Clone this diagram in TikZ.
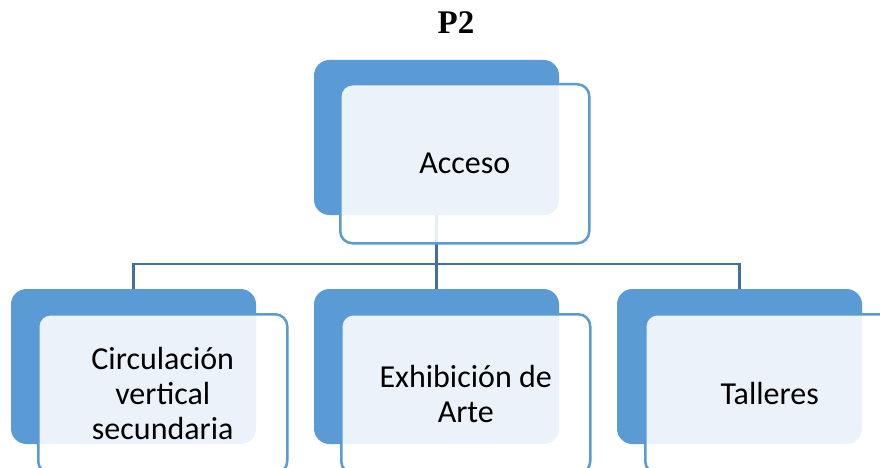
\documentclass[tikz,border=0pt]{standalone}
\usepackage{fontspec}
\setmainfont{Carlito}
\newfontfamily\titlefont{Liberation Serif}
\definecolor{accent}{HTML}{5B9BD5}
\definecolor{connc}{HTML}{41719C}
\tikzset{
  backbox/.style={draw=accent, fill=accent, line width=1pt, rounded corners=15pt, minimum width=244pt, minimum height=154pt, inner sep=0pt, anchor=north west},
  frontbox/.style={draw=accent, fill=white, fill opacity=0.88, text opacity=1, line width=2.5pt, rounded corners=12pt, minimum width=249pt, minimum height=159pt, inner sep=0pt, anchor=north west, align=center, font=\fontsize{32}{35}\selectfont, text=black},
  conn/.style={draw=connc, line width=2.5pt}
}
\begin{document}
\begin{tikzpicture}[x=1pt,y=-1pt]
\clip (0,0) rectangle (880,468);
\fill[white] (0,0) rectangle (880,468);
\node[font=\titlefont\bfseries\fontsize{33}{36}\selectfont] (title) at (456,23) {P2};
% back boxes
\node[backbox] (b0) at (314,60) {};
\node[backbox] (b1) at (11,289) {};
\node[backbox] (b2) at (314,289) {};
\node[backbox] (b3) at (617,289) {};
% connectors
\coordinate (bus) at (0,264);
\draw[conn] (b0.south) -- (b2.north);
\draw[conn] (b0.south |- bus) -| (b1.north);
\draw[conn] (b0.south |- bus) -| (b3.north);
% front boxes
\node[frontbox] (f0) at (339,83) {Acceso};
\node[frontbox] (f1) at (37,313) {Circulación\\vertical\\secundaria};
\node[frontbox] (f2) at (340,313) {Exhibición de\\Arte};
\node[frontbox] (f3) at (644,313) {Talleres};
\end{tikzpicture}
\end{document}
